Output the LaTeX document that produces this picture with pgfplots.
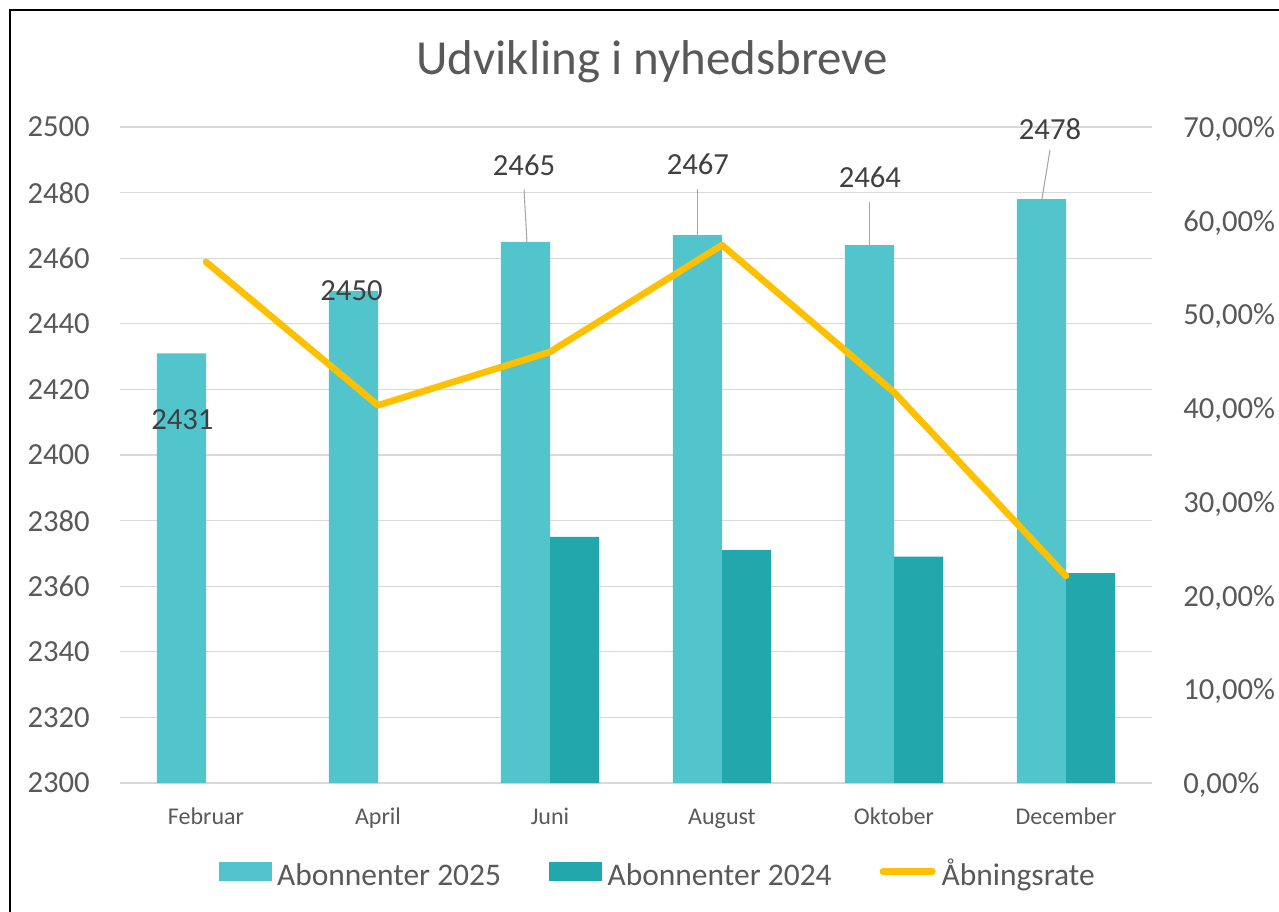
\documentclass[border=0pt]{standalone}
\usepackage{pgfplots}
\pgfplotsset{compat=1.18}
\usepackage{fontspec}
\setmainfont{Carlito}
\definecolor{c25}{HTML}{52C4CB}
\definecolor{c24}{HTML}{21A7AC}
\definecolor{rate}{HTML}{FFC000}
\definecolor{txt}{HTML}{595959}
\definecolor{lbl}{HTML}{404040}
\definecolor{gridc}{HTML}{D9D9D9}
\definecolor{leader}{HTML}{A6A6A6}

\begin{document}
\begin{tikzpicture}
\path[use as bounding box] (0pt,0pt) rectangle (959.25pt,-684pt);
\draw[black, line width=1.2pt] (7.3pt,-750pt) -- (7.3pt,-7.3pt) -- (1000pt,-7.3pt);
\node[text=txt, font=\fontsize{36.7}{44}\selectfont] at (489pt,-46.5pt) {Udvikling i nyhedsbreve};

\begin{axis}[
  at={(90pt,-587.25pt)}, anchor=south west,
  scale only axis, width=774pt, height=492pt,
  xmin=-0.5, xmax=5.5, ymin=2300, ymax=2500,
  xtick={0,1,2,3,4,5},
  xticklabels={Februar,April,Juni,August,Oktober,December},
  ytick={2300,2320,...,2500},
  yticklabels={2300,2320,2340,2360,2380,2400,2420,2440,2460,2480,2500},
  ymajorgrids, grid style={gridc, line width=1pt},
  axis line style={draw=none}, tick style={draw=none},
  major tick length=0pt,
  yticklabel style={font=\fontsize{23}{27}\selectfont, text=txt, inner sep=0pt, text depth=0pt, anchor=east, xshift=-22.5pt},
  xticklabel style={font=\fontsize{18}{22}\selectfont, text=txt, anchor=base, yshift=-30.75pt},
  legend columns=3,
  legend style={at={(0.520,-0.1387)}, anchor=center, draw=none, fill=none,
    font=\fontsize{23.6}{28}\selectfont, text=txt,
    nodes={inner sep=0pt, text depth=0pt, text height=0.64em},
    column sep=4.5pt,
    /tikz/every even column/.append style={column sep=36pt}},
  legend cell align=left,
  clip=false,
]
\addplot[ybar, bar width=0.285, bar shift=-0.1425, fill=c25, draw=none, forget plot]
  coordinates {(0,2431) (1,2450) (2,2465) (3,2467) (4,2464) (5,2478)};
\addplot[ybar, bar width=0.285, bar shift=0.1425, fill=c24, draw=none, forget plot]
  coordinates {(2,2375) (3,2371) (4,2369) (5,2364)};

\addlegendimage{legend image code/.code={\fill[c25] (0pt,0.8pt) rectangle (39pt,14.3pt);}}
\addlegendentry{Abonnenter 2025}
\addlegendimage{legend image code/.code={\fill[c24] (0pt,0.8pt) rectangle (39pt,14.3pt);}}
\addlegendentry{Abonnenter 2024}
\addlegendimage{legend image code/.code={\draw[rate, line width=5pt, line cap=round] (2.5pt,7.55pt) -- (39.5pt,7.55pt);}}
\addlegendentry{Åbningsrate}

\tikzset{lab/.style={text=lbl, font=\fontsize{23}{27}\selectfont, inner sep=0pt, text depth=0pt},
         lead/.style={leader, line width=0.8pt}}
\node[lab] at (axis cs:-0.137,2410.7) {2431};
\node[lab] at (axis cs:0.846,2450) {2450};
\node[lab] at (axis cs:1.849,2488.4) {2465};
\draw[lead] (axis cs:1.849,2481) -- (axis cs:1.866,2465);
\node[lab] at (axis cs:2.860,2488.6) {2467};
\draw[lead] (axis cs:2.860,2481) -- (axis cs:2.860,2467);
\node[lab] at (axis cs:3.860,2484.8) {2464};
\draw[lead] (axis cs:3.860,2477) -- (axis cs:3.860,2464);
\node[lab] at (axis cs:4.907,2499.4) {2478};
\draw[lead] (axis cs:4.907,2493) -- (axis cs:4.860,2478);
\end{axis}

\begin{axis}[
  at={(90pt,-587.25pt)}, anchor=south west,
  scale only axis, width=774pt, height=492pt,
  xmin=-0.5, xmax=5.5, ymin=0, ymax=0.7,
  xtick=\empty,
  ytick={0,0.1,0.2,0.3,0.4,0.5,0.6,0.7},
  yticklabels={{0,00\%},{10,00\%},{20,00\%},{30,00\%},{40,00\%},{50,00\%},{60,00\%},{70,00\%}},
  yticklabel pos=right,
  axis line style={draw=none}, tick style={draw=none},
  major tick length=0pt,
  yticklabel style={font=\fontsize{23}{27}\selectfont, text=txt, inner sep=0pt, text depth=0pt, anchor=west, xshift=23.25pt},
  clip=false,
]
\addplot[rate, line width=5pt, line join=round, line cap=round]
  coordinates {(0,0.556) (1,0.403) (2,0.460) (3,0.574) (4,0.417) (5,0.221)};
\end{axis}
\end{tikzpicture}
\end{document}
